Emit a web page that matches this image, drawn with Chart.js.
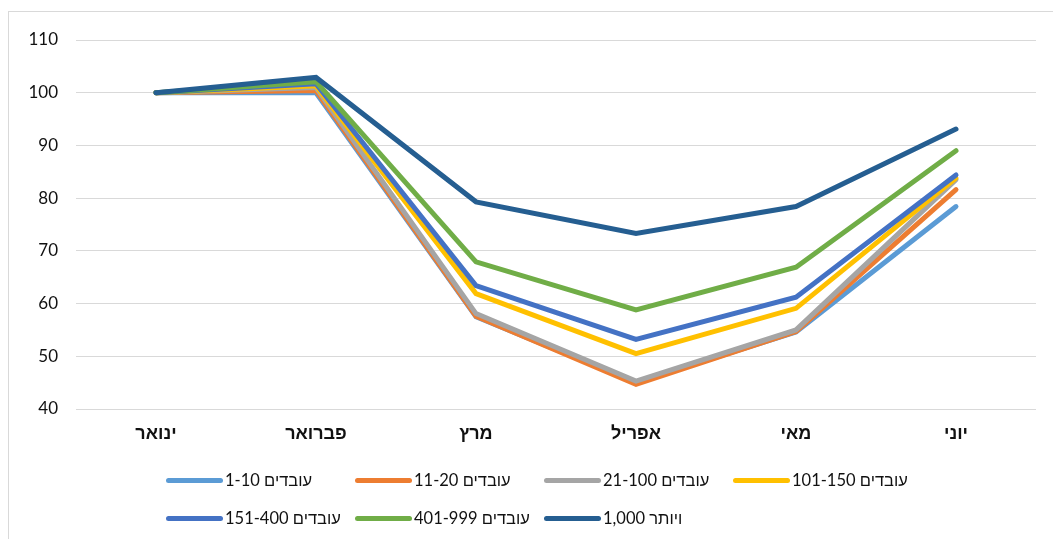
<!DOCTYPE html>
<html>
<head>
<meta charset="utf-8">
<script src="https://cdn.jsdelivr.net/npm/chart.js@4.4.1/dist/chart.umd.min.js"></script>
<style>
  html, body { margin: 0; padding: 0; background: #fff; }
  body { width: 1053px; height: 539px; position: relative; overflow: hidden; }
  #frame { position: absolute; left: 8px; top: 11px; width: 1100px; height: 600px;
           border-left: 1px solid #d9d9d9; border-top: 1px solid #d9d9d9; }
  #wrap { position: absolute; left: 0; top: 0; width: 1053px; height: 539px; }
  #legend { position: absolute; left: 166px; top: 461px; width: 800px; }
  .row { display: flex; height: 38px; align-items: center; }
  .item { width: 189px; display: flex; align-items: center; white-space: nowrap; }
  .sw { width: 57px; height: 5px; border-radius: 3px; margin-right: 2px; }
  .txt { font-family: Lato, 'Liberation Sans', sans-serif; font-size: 16.5px; color: #111; }
</style>
</head>
<body>
<div id="frame"></div>
<div id="wrap"><canvas id="c" width="1053" height="539"></canvas></div>
<div id="legend"></div>
<script>
const months = ["ינואר", "פברואר", "מרץ", "אפריל", "מאי", "יוני"];
const seriesNames = ["1-10 עובדים", "11-20 עובדים", "21-100 עובדים", "101-150 עובדים", "151-400 עובדים", "401-999 עובדים", "1,000 ויותר"];
const s1_10     = [100, 100.0, 57.5, 45.0, 54.6, 78.4];
const s11_20    = [100, 100.4, 57.6, 44.7, 54.7, 81.6];
const s21_100   = [100, 101.0, 58.1, 45.3, 55.0, 83.5];
const s101_150  = [100, 101.3, 61.9, 50.5, 59.1, 83.8];
const s151_400  = [100, 101.7, 63.4, 53.2, 61.2, 84.4];
const s401_999  = [100, 102.1, 67.9, 58.8, 66.9, 89.0];
const s1000plus = [100, 102.9, 79.3, 73.3, 78.4, 93.1];
const yTicks = [40, 50, 60, 70, 80, 90, 100, 110];

const seriesValues = [s1_10, s11_20, s21_100, s101_150, s151_400, s401_999, s1000plus];
const colors = ["#5B9BD5", "#ED7D31", "#A5A5A5", "#FFC000", "#4472C4", "#70AD47", "#255E91"];

const datasets = seriesValues.map((vals, i) => ({
  label: seriesNames[i],
  data: vals,
  borderColor: colors[i],
  backgroundColor: colors[i],
  borderWidth: 5,
  pointRadius: 0,
  pointHoverRadius: 0,
  tension: 0,
  fill: false,
  borderCapStyle: 'round',
  borderJoinStyle: 'miter',
  order: seriesValues.length - i
}));

const chart = new Chart(document.getElementById('c'), {
  type: 'line',
  data: { labels: months, datasets },
  options: {
    responsive: false,
    animation: false,
    events: [],
    layout: { padding: { top: 40, right: 17, left: 0, bottom: 0 } },
    plugins: { legend: { display: false }, tooltip: { enabled: false } },
    scales: {
      x: {
        offset: true,
        grid: { display: false, drawTicks: false },
        border: { display: false },
        ticks: { padding: 14, color: '#111', font: { family: "'Liberation Sans', sans-serif", size: 18, weight: 'bold' }, maxRotation: 0 },
        afterFit: (s) => { s.height = 130; }
      },
      y: {
        min: 40, max: 110,
        afterBuildTicks: (s) => { s.ticks = yTicks.map(v => ({ value: v })); },
        grid: { color: '#d9d9d9', lineWidth: 1, drawTicks: false },
        border: { display: false },
        ticks: { padding: 18, color: '#111', font: { family: "Lato, sans-serif", size: 17 } },
        afterFit: (s) => { s.width = 76; }
      }
    }
  }
});

// HTML legend built from the chart's datasets
const leg = document.getElementById('legend');
const perRow = 4;
let row;
chart.data.datasets.forEach((ds, i) => {
  if (i % perRow === 0) { row = document.createElement('div'); row.className = 'row'; leg.appendChild(row); }
  const it = document.createElement('div'); it.className = 'item';
  const sw = document.createElement('span'); sw.className = 'sw'; sw.style.background = ds.borderColor;
  const tx = document.createElement('span'); tx.className = 'txt'; tx.textContent = ds.label;
  it.appendChild(sw); it.appendChild(tx); row.appendChild(it);
});
</script>
</body>
</html>
